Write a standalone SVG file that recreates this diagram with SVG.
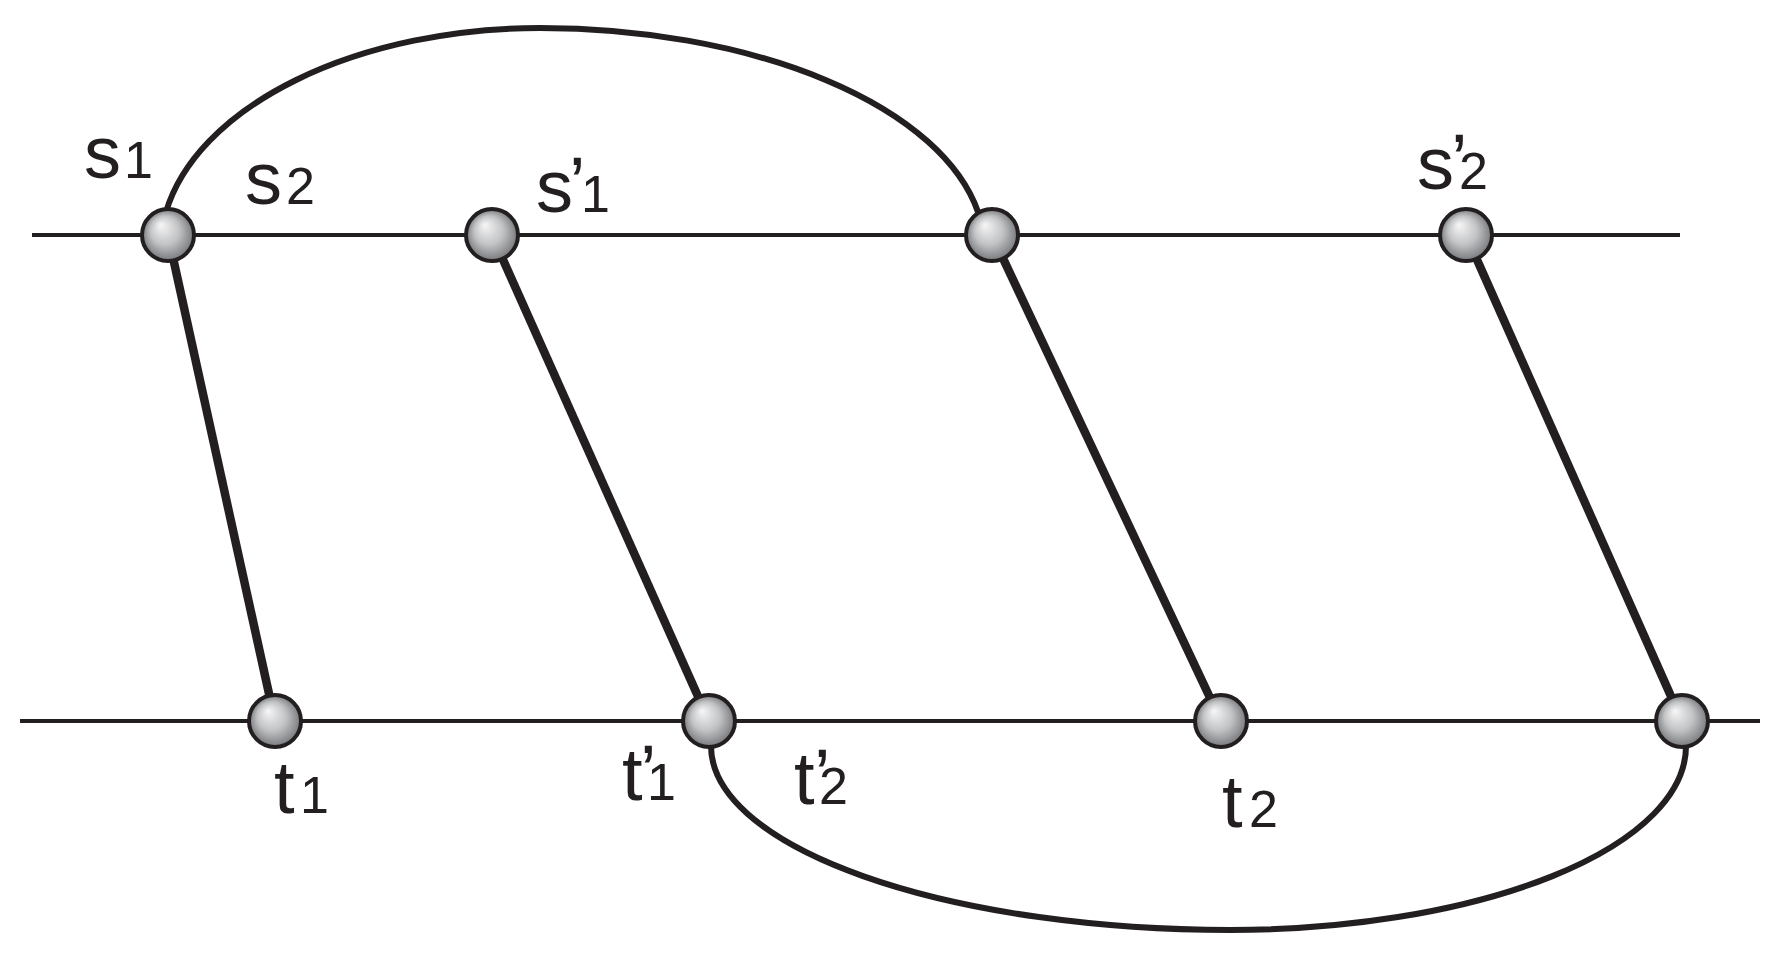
<svg xmlns="http://www.w3.org/2000/svg" width="1779" height="960" viewBox="0 0 1779 960">
<style>
.thin{stroke:#231f20;stroke-width:4;fill:none}
.curve{stroke:#231f20;stroke-width:6;fill:none}
.thick{stroke:#231f20;stroke-width:8.5;fill:none;stroke-linecap:butt}
.node{fill:url(#ball);stroke:#231f20;stroke-width:4}
.lbl{font-family:"Liberation Sans",Arial,sans-serif;fill:#231f20;font-size:74px}
.sub{font-size:52px}
</style>
<defs>
<radialGradient id="ball" cx="0.5" cy="0.5" r="0.5" fx="0.36" fy="0.3">
<stop offset="0" stop-color="#f7f7f7"/>
<stop offset="0.55" stop-color="#c2c3c5"/>
<stop offset="1" stop-color="#77787b"/>
</radialGradient>
</defs>
<rect width="1779" height="960" fill="#ffffff"/>
<g id="connectors">
<line class="thin" x1="32" y1="235" x2="1680" y2="235"/>
<line class="thin" x1="20" y1="721" x2="1760" y2="721"/>
<path class="curve" d="M166,212 A380,222 0 0 1 540,28 A445,222 0 0 1 978,212"/>
<path class="curve" d="M711,746 A519,184 0 0 0 1230,930 A456,184 0 0 0 1686,746"/>
<line class="thick" x1="168" y1="235" x2="275" y2="721"/>
<line class="thick" x1="492" y1="235" x2="709" y2="721"/>
<line class="thick" x1="992" y1="235" x2="1221" y2="721"/>
<line class="thick" x1="1466" y1="235" x2="1682" y2="721"/>
</g>
<g id="node-s1">
<circle class="node" cx="168" cy="235" r="26"/>
<text class="lbl" x="84" y="178">s<tspan class="sub" x="124">1</tspan></text>
<text class="lbl" x="245" y="204">s<tspan class="sub" x="286">2</tspan></text>
</g>
<g id="node-s1p">
<circle class="node" cx="492" cy="235" r="26"/>
<text class="lbl" x="536" y="212">s<tspan x="569" dy="-3">’</tspan><tspan class="sub" x="581" dy="3">1</tspan></text>
</g>
<g id="node-top3">
<circle class="node" cx="992" cy="235" r="26"/>
</g>
<g id="node-s2p">
<circle class="node" cx="1466" cy="235" r="26"/>
<text class="lbl" x="1417" y="189">s<tspan x="1451" dy="-3">’</tspan><tspan class="sub" x="1459" dy="3">2</tspan></text>
</g>
<g id="node-t1">
<circle class="node" cx="275" cy="721" r="26"/>
<text class="lbl" x="274" y="813">t<tspan class="sub" x="300">1</tspan></text>
</g>
<g id="node-t1p">
<circle class="node" cx="709" cy="721" r="26"/>
<text class="lbl" x="622" y="800">t<tspan x="640" dy="-3">’</tspan><tspan class="sub" x="647" dy="3">1</tspan></text>
<text class="lbl" x="794" y="804">t<tspan x="814" dy="-3">’</tspan><tspan class="sub" x="819" dy="3">2</tspan></text>
</g>
<g id="node-t2">
<circle class="node" cx="1221" cy="721" r="26"/>
<text class="lbl" x="1222" y="827">t<tspan class="sub" x="1249">2</tspan></text>
</g>
<g id="node-bot4">
<circle class="node" cx="1682" cy="721" r="26"/>
</g>
</svg>
